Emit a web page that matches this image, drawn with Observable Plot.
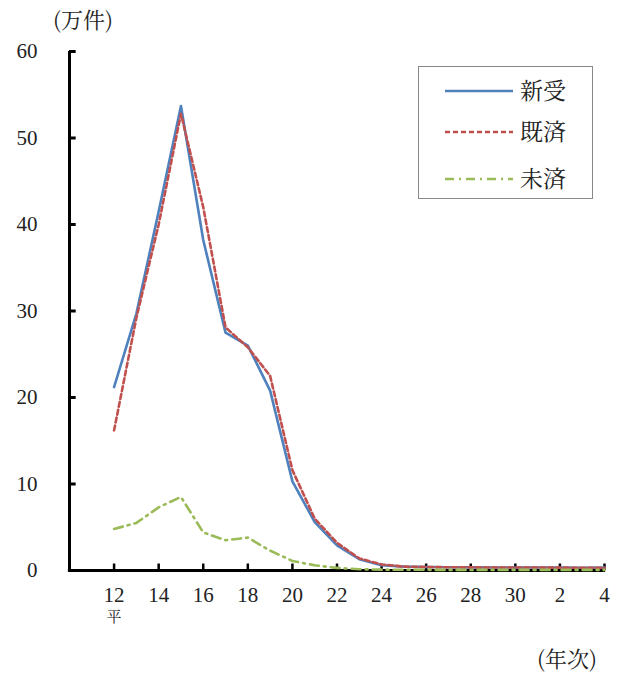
<!DOCTYPE html>
<html>
<head>
<meta charset="utf-8">
<script src="https://cdn.jsdelivr.net/npm/d3@7"></script>
<script src="https://cdn.jsdelivr.net/npm/@observablehq/plot@0.6"></script>
<style>
  body { margin: 0; background: #fff; }
  .num text, text.num { font-family: 'Liberation Serif', 'Times New Roman', serif !important; }
  .cjk text, text.cjk { font-family: 'Noto Serif CJK JP', 'Noto Sans CJK JP', serif !important; }
</style>
</head>
<body>
<div id="chart"></div>
<script>
// Year index: 0 = 平成12 ... 18 = 平成30, 19 = 令和元, 20 = 令和2, 22 = 令和4
const yearIdx = d3.range(0, 23);
const xTickIdx = [0, 2, 4, 6, 8, 10, 12, 14, 16, 18, 20, 22];
const xTickLabels = ["12", "14", "16", "18", "20", "22", "24", "26", "28", "30", "2", "4"];
const yTicks = [0, 10, 20, 30, 40, 50, 60];

const seriesNames = ["新受", "既済", "未済"];
const shinju = [21.2, 29.7, 41.5, 53.7, 38.2, 27.5, 26.0, 20.8, 10.3, 5.6, 2.9, 1.3, 0.6, 0.45, 0.4, 0.38, 0.36, 0.35, 0.35, 0.34, 0.33, 0.32, 0.33];
const kisai  = [16.2, 29.2, 40.0, 52.8, 42.0, 28.1, 25.8, 22.5, 11.6, 6.0, 3.2, 1.4, 0.7, 0.45, 0.4, 0.38, 0.36, 0.35, 0.35, 0.34, 0.33, 0.32, 0.3];
const misai  = [4.8, 5.5, 7.3, 8.5, 4.4, 3.5, 3.8, 2.3, 1.1, 0.6, 0.3, 0.15, 0.1, 0.08, 0.08, 0.07, 0.07, 0.07, 0.07, 0.07, 0.07, 0.07, 0.07];

const colors = ["#4F81BD", "#C0504D", "#9BBB59"];
const dashes = [null, "5,3", "9,5,2,5"];
const valuesList = [shinju, kisai, misai];

const rows = [];
seriesNames.forEach((s, k) => valuesList[k].forEach((v, i) => rows.push({series: s, x: yearIdx[i], y: v})));

const plot = Plot.plot({
  width: 619,
  height: 675,
  marginLeft: 69,
  marginRight: 15,
  marginTop: 51,
  marginBottom: 105,
  x: {domain: [-2, 22], axis: null},
  y: {domain: [0, 60], axis: null},
  style: {background: "#fff", overflow: "visible"},
  marks: [
    // axes
    Plot.ruleX([-2], {y1: 0, y2: 60, stroke: "#000", strokeWidth: 3}),
    Plot.ruleY([0], {x1: -2.05, x2: 22.05, stroke: "#000", strokeWidth: 3}),
    Plot.ruleY(yTicks, {x1: -2, x2: -1.7, y: d => d, stroke: "#000", strokeWidth: 3}),
    Plot.ruleX(xTickIdx, {x: d => d, y1: 0, y2: 0.75, stroke: "#000", strokeWidth: 2.5}),
    Plot.text(yTicks, {x: -2, y: d => d, text: d => String(d), textAnchor: "end", dx: -32, fontSize: 21, fill: "#222", className: "num"}),
    Plot.text(xTickIdx, {x: d => d, y: 0, text: (d, i) => xTickLabels[i], dy: 25, fontSize: 21, fill: "#222", className: "num"}),
    Plot.text([0], {x: d => d, y: 0, text: () => "平", dy: 47, fontSize: 15, fill: "#222", className: "cjk"}),
    // series
    ...seriesNames.map((s, k) => Plot.line(rows.filter(r => r.series === s), {
      x: "x", y: "y", stroke: colors[k], strokeWidth: 2.6,
      strokeDasharray: dashes[k] || undefined, strokeLinejoin: "round"
    }))
  ]
});

document.getElementById("chart").appendChild(plot);

const svg = d3.select(plot);
// unit labels
svg.append("text").attr("class", "cjk").attr("x", 83).attr("y", 28).attr("text-anchor", "middle")
  .attr("font-size", 22).attr("fill", "#222").text("(万件)");
svg.append("text").attr("class", "cjk").attr("x", 567).attr("y", 667).attr("text-anchor", "middle")
  .attr("font-size", 22).attr("fill", "#222").text("(年次)");

// legend
const lg = svg.append("g");
lg.append("rect").attr("x", 418.5).attr("y", 66.5).attr("width", 174).attr("height", 132)
  .attr("fill", "#fff").attr("stroke", "#888").attr("stroke-width", 1);
const legendY = [91, 132, 179];
seriesNames.forEach((s, k) => {
  lg.append("line").attr("x1", 445).attr("x2", 513).attr("y1", legendY[k]).attr("y2", legendY[k])
    .attr("stroke", colors[k]).attr("stroke-width", 2.6)
    .attr("stroke-dasharray", dashes[k]);
  lg.append("text").attr("class", "cjk").attr("x", 520).attr("y", legendY[k]).attr("dy", "0.36em")
    .attr("text-anchor", "start")
    .attr("font-size", 23).attr("fill", "#222").text(s);
});
</script>
</body>
</html>
